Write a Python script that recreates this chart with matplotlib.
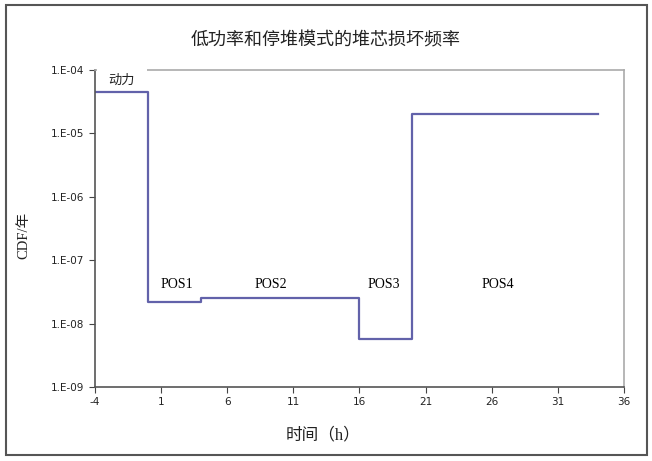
import math
import matplotlib
matplotlib.use('Agg')
import matplotlib.pyplot as plt
from matplotlib.patches import Rectangle
from matplotlib.ticker import FixedLocator, FuncFormatter, NullLocator

# step edges (h) and CDF per stage
x_edges = [-4, 0, 4, 16, 20, 34]
cdf = [4.5e-5, 2.2e-8, 2.5e-8, 5.7e-9, 2.0e-5]
stage_names = ['POS1', 'POS2', 'POS3', 'POS4']
stage_x = [2.2, 9.3, 17.85, 26.5]
x_ticks = [-4, 1, 6, 11, 16, 21, 26, 31, 36]
y_ticks = [1e-9, 1e-8, 1e-7, 1e-6, 1e-5, 1e-4]

plt.rcParams['axes.unicode_minus'] = False
cjk = ['Noto Sans CJK SC', 'DejaVu Sans']
mixed = ['Liberation Serif', 'Noto Sans CJK SC']

fig = plt.figure(figsize=(6.52, 4.61), dpi=100)
ax = fig.add_axes([0.1457, 0.1605, 0.8113, 0.6875])

ax.step(x_edges, cdf + [cdf[-1]], where='post', color='#6262aa', lw=1.6)

ax.set_yscale('log')
ax.set_xlim(-4, 36)
ax.set_ylim(1e-9, 1e-4)
ax.xaxis.set_major_locator(FixedLocator(x_ticks))
ax.yaxis.set_major_locator(FixedLocator(y_ticks))
ax.yaxis.set_minor_locator(NullLocator())
ax.yaxis.set_major_formatter(FuncFormatter(lambda v, p: '1.E-%02d' % round(-math.log10(v))))
ax.tick_params(labelsize=7.5, length=4, color='#444444', labelcolor='#222222')

for s in ['left', 'bottom']:
    ax.spines[s].set_color('#555555')
    ax.spines[s].set_linewidth(1.2)
for s in ['top', 'right']:
    ax.spines[s].set_color('#aaaaaa')
    ax.spines[s].set_linewidth(1.2)

for name, x in zip(stage_names, stage_x):
    ax.text(x, 4.2e-8, name, family='Liberation Serif', fontsize=10,
            ha='center', va='center')

# white label box over the top spine
ax.add_patch(Rectangle((0.004, 0.937), 0.095, 0.07, transform=ax.transAxes,
                       facecolor='white', edgecolor='none', zorder=3, clip_on=False))
ax.text(-2.0, 7.0e-5, '动力', family=cjk, fontsize=9.5, ha='center', va='center',
        zorder=4, color='#222222')

fig.text(0.5, 0.913, '低功率和停堆模式的堆芯损坏频率', family=cjk, fontsize=13,
         ha='center', va='center', color='#222222')
fig.text(0.495, 0.056, '时间（h）', family=mixed, fontsize=12,
         ha='center', va='center', color='#222222')
fig.text(0.037, 0.49, 'CDF/年', family=mixed, fontsize=10.5, rotation=90,
         ha='center', va='center', color='#222222')

fig.patches.append(Rectangle((0.009, 0.012), 0.983, 0.977, transform=fig.transFigure,
                             fill=False, edgecolor='#555555', lw=1.5))

fig.savefig('out.png', dpi=100)
